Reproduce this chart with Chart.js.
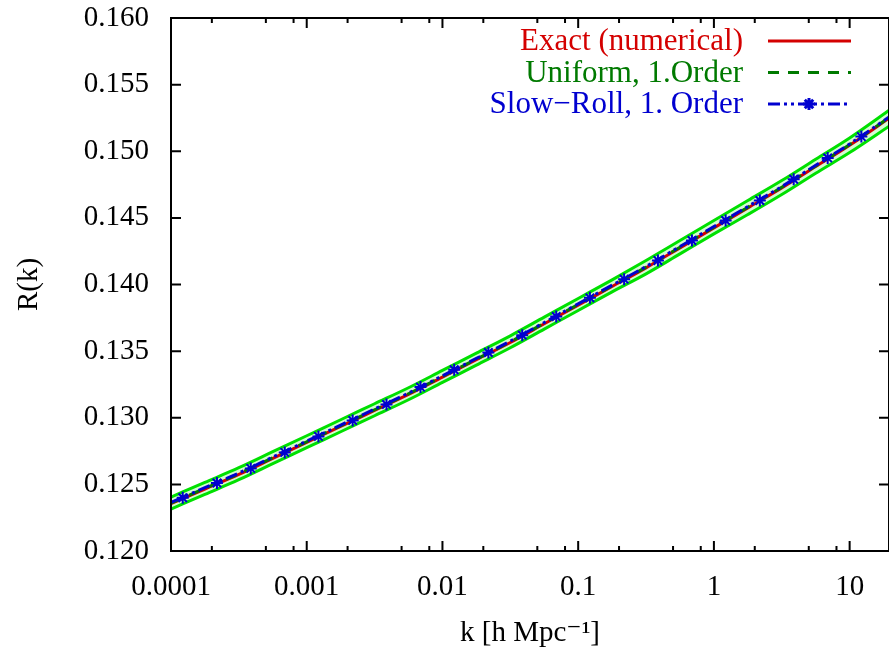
<!DOCTYPE html>
<html>
<head>
<meta charset="utf-8">
<script src="https://cdn.jsdelivr.net/npm/chart.js@4.4.0/dist/chart.umd.min.js"></script>
<style>
html, body { margin: 0; padding: 0; background: #fff; overflow: hidden; }
#wrap { width: 889px; height: 655px; overflow: hidden; }
</style>
</head>
<body>
<div id="wrap"><canvas id="chart" width="897" height="655"></canvas></div>
<script>
// k grid (h/Mpc)
const kValues = [1e-4, 1.778e-4, 3.162e-4, 5.623e-4, 1e-3, 1.778e-3, 3.162e-3, 5.623e-3,
  0.01, 0.01778, 0.03162, 0.05623, 0.1, 0.1778, 0.3162, 0.5623,
  1, 1.778, 3.162, 5.623, 10, 20];

const exactR = [0.12355, 0.12465, 0.12575, 0.12695, 0.12815, 0.12935, 0.13055, 0.13175,
  0.13305, 0.13435, 0.13565, 0.13705, 0.13845, 0.13985, 0.14125, 0.14275,
  0.14425, 0.14575, 0.14725, 0.14885, 0.15045, 0.15255];

const uniformR = [0.1236, 0.1247, 0.1258, 0.1270, 0.1282, 0.1294, 0.1306, 0.1318,
  0.1331, 0.1344, 0.1357, 0.1371, 0.1385, 0.1399, 0.1413, 0.1428,
  0.1443, 0.1458, 0.1473, 0.1489, 0.1505, 0.1526];

const slowRollR = [0.12365, 0.12475, 0.12585, 0.12705, 0.12825, 0.12945, 0.13065, 0.13185,
  0.13315, 0.13445, 0.13575, 0.13715, 0.13855, 0.13995, 0.14135, 0.14285,
  0.14435, 0.14585, 0.14735, 0.14895, 0.15055, 0.15265];

// bright green error band
const bandUpper = [0.12405, 0.12515, 0.12625, 0.12745, 0.12865, 0.12985, 0.13105, 0.13225,
  0.13355, 0.13485, 0.13615, 0.13755, 0.13895, 0.14035, 0.14180, 0.14330,
  0.14480, 0.14630, 0.14780, 0.14940, 0.15100, 0.15315];
const bandLower = [0.12315, 0.12425, 0.12535, 0.12655, 0.12775, 0.12895, 0.13015, 0.13135,
  0.13265, 0.13395, 0.13525, 0.13665, 0.13805, 0.13945, 0.14080, 0.14230,
  0.14380, 0.14525, 0.14675, 0.14835, 0.14990, 0.15195];

// star markers on the slow-roll curve
const starK = [1.22e-4, 2.18e-4, 3.87e-4, 6.89e-4, 1.22e-3, 2.18e-3, 3.87e-3, 6.89e-3,
  0.0122, 0.0218, 0.0387, 0.0689, 0.122, 0.218, 0.387, 0.689,
  1.22, 2.18, 3.87, 6.89, 12.2];
const starR = [0.1240, 0.1251, 0.1262, 0.1274, 0.1286, 0.1298, 0.1310, 0.1323,
  0.1336, 0.1349, 0.1362, 0.1376, 0.1390, 0.1404, 0.1418, 0.1433,
  0.1448, 0.1463, 0.1479, 0.1495, 0.1511];

const xMajor = [1e-4, 1e-3, 1e-2, 1e-1, 1, 10];
const xTickLabels = ['0.0001', '0.001', '0.01', '0.1', '1', '10'];
const xMinorMult = [2, 5, 8];

const RED = '#d40000';
const DKGREEN = '#007a00';
const BLUE = '#0000d0';
const LIME = '#00e000';

const FONT = '"Liberation Serif", "DejaVu Serif", serif';

function pts(xs, ys) {
  return xs.map((k, i) => ({ x: k, y: ys[i] }));
}

function zeroPad(s) {
  s.paddingLeft = 0;
  s.paddingRight = 0;
  s.paddingTop = 0;
  s.paddingBottom = 0;
}

const legendItems = [
  { label: 'Exact (numerical)', color: RED, dash: [] },
  { label: 'Uniform, 1.Order', color: DKGREEN, dash: [11, 9] },
  { label: 'Slow\u2212Roll, 1. Order', color: BLUE, dash: [12, 4, 3, 4, 3, 4], star: true }
];

// legend drawn gnuplot style: text right aligned, sample to the right
const curveLegend = {
  id: 'curveLegend',
  afterDraw(chart) {
    const ctx = chart.ctx;
    ctx.save();
    ctx.font = '31px ' + FONT;
    ctx.textAlign = 'right';
    ctx.textBaseline = 'middle';
    legendItems.forEach((item, i) => {
      const y = 41 + i * 31.5;
      ctx.fillStyle = item.color;
      ctx.fillText(item.label, 743, y + 1);
      ctx.strokeStyle = item.color;
      ctx.lineWidth = 3;
      ctx.setLineDash(item.dash);
      ctx.beginPath();
      ctx.moveTo(768, y);
      ctx.lineTo(851, y);
      ctx.stroke();
      ctx.setLineDash([]);
      if (item.star) {
        ctx.fillStyle = item.color;
        Chart.helpers.drawPoint(ctx, { pointStyle: 'star', radius: 6, borderWidth: 2 }, 809, y);
      }
    });
    ctx.restore();
  }
};

// black frame with inward ticks on all four sides
const frameTicks = {
  id: 'frameTicks',
  afterDatasetsDraw(chart) {
    const { ctx, chartArea: a, scales: { x, y } } = chart;
    ctx.save();
    ctx.strokeStyle = '#000';
    ctx.lineWidth = 2;
    ctx.strokeRect(a.left, a.top, a.right - a.left, a.bottom - a.top);
    ctx.beginPath();
    xMajor.forEach(v => {
      const px = x.getPixelForValue(v);
      ctx.moveTo(px, a.bottom); ctx.lineTo(px, a.bottom - 10);
      ctx.moveTo(px, a.top); ctx.lineTo(px, a.top + 10);
      xMinorMult.forEach(m => {
        const val = v * m;
        if (val > x.max) return;
        const mp = x.getPixelForValue(val);
        ctx.moveTo(mp, a.bottom); ctx.lineTo(mp, a.bottom - 5);
        ctx.moveTo(mp, a.top); ctx.lineTo(mp, a.top + 5);
      });
    });
    y.ticks.forEach(t => {
      const py = y.getPixelForValue(t.value);
      ctx.moveTo(a.left, py); ctx.lineTo(a.left + 10, py);
      ctx.moveTo(a.right, py); ctx.lineTo(a.right - 10, py);
    });
    ctx.stroke();
    ctx.restore();
  }
};

new Chart(document.getElementById('chart'), {
  type: 'line',
  data: {
    datasets: [
      {
        label: 'band upper',
        data: pts(kValues, bandUpper),
        borderColor: LIME,
        backgroundColor: '#d4fbd4',
        borderWidth: 3,
        pointRadius: 0,
        fill: '+1',
        cubicInterpolationMode: 'monotone',
        order: 10
      },
      {
        label: 'band lower',
        data: pts(kValues, bandLower),
        borderColor: LIME,
        borderWidth: 3,
        pointRadius: 0,
        fill: false,
        cubicInterpolationMode: 'monotone',
        order: 9
      },
      {
        label: 'Exact (numerical)',
        data: pts(kValues, exactR),
        borderColor: RED,
        borderWidth: 3,
        pointRadius: 0,
        fill: false,
        cubicInterpolationMode: 'monotone',
        order: 4
      },
      {
        label: 'Uniform, 1.Order',
        data: pts(kValues, uniformR),
        borderColor: DKGREEN,
        borderWidth: 3,
        borderDash: [11, 9],
        pointRadius: 0,
        fill: false,
        cubicInterpolationMode: 'monotone',
        order: 3
      },
      {
        label: 'Slow-Roll, 1. Order',
        data: pts(kValues, slowRollR),
        borderColor: BLUE,
        borderWidth: 3,
        borderDash: [12, 4, 3, 4, 3, 4],
        pointRadius: 0,
        fill: false,
        cubicInterpolationMode: 'monotone',
        order: 2
      },
      {
        label: 'Slow-Roll points',
        data: pts(starK, starR),
        showLine: false,
        pointStyle: 'star',
        pointRadius: 6,
        pointBorderWidth: 2,
        pointBorderColor: BLUE,
        pointBackgroundColor: BLUE,
        order: 1
      }
    ]
  },
  options: {
    responsive: false,
    animation: false,
    layout: { padding: { top: 18, right: 1, left: 0, bottom: 0 } },
    plugins: {
      legend: { display: false },
      tooltip: { enabled: false }
    },
    scales: {
      x: {
        type: 'logarithmic',
        min: 1e-4,
        max: 19.5,
        grid: { display: false, drawTicks: false },
        border: { display: false },
        afterBuildTicks: s => { s.ticks = xMajor.map(v => ({ value: v })); },
        afterFit: s => { s.height = 104; zeroPad(s); },
        ticks: {
          autoSkip: false,
          maxRotation: 0,
          padding: 19,
          color: '#000',
          font: { family: FONT, size: 29 },
          callback: (v, i) => xTickLabels[i]
        },
        title: {
          display: true,
          text: 'k [h Mpc\u207B\u00B9]',
          color: '#000',
          font: { family: FONT, size: 29 },
          padding: { top: 0, bottom: 4 }
        }
      },
      y: {
        min: 0.12,
        max: 0.16,
        grid: { display: false, drawTicks: false },
        border: { display: false },
        afterFit: s => { s.width = 171; zeroPad(s); },
        ticks: {
          stepSize: 0.005,
          padding: 22,
          color: '#000',
          font: { family: FONT, size: 29 },
          callback: v => v.toFixed(3)
        },
        title: {
          display: true,
          text: 'R(k)',
          color: '#000',
          font: { family: FONT, size: 29 },
          padding: { top: 12, bottom: 0 }
        }
      }
    }
  },
  plugins: [frameTicks, curveLegend]
});
</script>
</body>
</html>
